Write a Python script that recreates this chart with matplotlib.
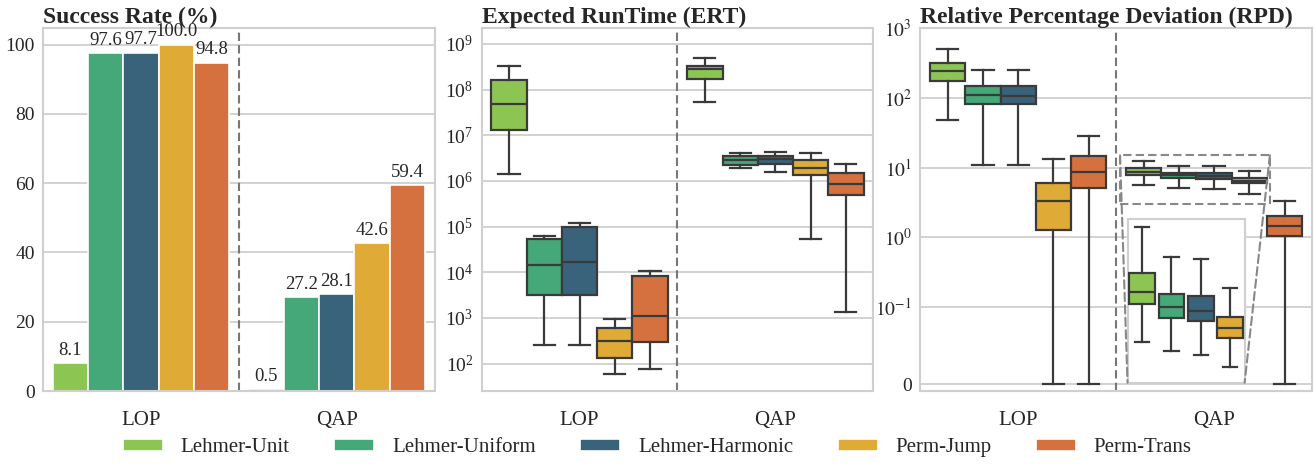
import numpy as np
import matplotlib
matplotlib.use("Agg")
import matplotlib.pyplot as plt
from matplotlib.patches import Rectangle, ConnectionPatch

plt.rcParams["font.family"] = ["Liberation Serif", "DejaVu Serif"]
plt.rcParams["mathtext.fontset"] = "stix"
plt.rcParams["text.color"] = "#262626"
plt.rcParams["xtick.color"] = "#262626"
plt.rcParams["ytick.color"] = "#262626"

methods = ["Lehmer-Unit", "Lehmer-Uniform", "Lehmer-Harmonic", "Perm-Jump", "Perm-Trans"]
colors = ["#8DC553", "#45A879", "#39637A", "#E0AA36", "#D5703F"]
problems = ["LOP", "QAP"]

success_lop = [8.1, 97.6, 97.7, 100.0, 94.8]
success_qap = [0.5, 27.2, 28.1, 42.6, 59.4]

# box summaries per method: whislo, q1, median, q3, whishi
ert_lop = [
    [1.45e6, 1.33e7, 4.9e7, 1.65e8, 3.35e8],
    [260, 3.16e3, 1.46e4, 5.3e4, 6.2e4],
    [260, 3.16e3, 1.67e4, 9.6e4, 1.19e5],
    [58, 130, 307, 612, 964],
    [76, 302, 1.1e3, 8.4e3, 1.04e4],
]
ert_qap = [
    [5.3e7, 1.71e8, 2.9e8, 3.35e8, 4.9e8],
    [1.9e6, 2.2e6, 2.9e6, 3.6e6, 4.2e6],
    [1.6e6, 2.3e6, 3.05e6, 3.6e6, 4.3e6],
    [5.4e4, 1.38e6, 1.9e6, 2.9e6, 4.0e6],
    [1.34e3, 5.0e5, 8.4e5, 1.5e6, 2.37e6],
]
rpd_lop = [
    [47.7, 177, 244, 315, 512],
    [11, 83, 109, 149, 255],
    [11, 83, 108, 149, 255],
    [0, 1.26, 3.3, 6.0, 13.1],
    [0, 5.1, 8.7, 14.5, 28],
]
rpd_qap = [
    [5.7, 7.9, 8.58, 9.71, 12.4],
    [5.14, 7.05, 7.75, 8.48, 10.66],
    [4.94, 6.9, 7.5, 8.37, 10.52],
    [4.21, 5.93, 6.5, 7.11, 8.85],
    [0, 1.04, 1.47, 2.0, 3.35],
]
zoom_ylim = (3.0, 15.0)      # region of the main RPD axis that gets magnified
inset_ylim = (3.3, 12.85)

BW = 0.18
offsets = (np.arange(len(methods)) - 2) * BW
dark = "#3a3a3a"
gridc = "#cfcfcf"


def stats(row):
    lo, q1, med, q3, hi = row
    return dict(whislo=lo, q1=q1, med=med, q3=q3, whishi=hi, fliers=[])


def draw_boxes(ax, rows, positions, cols, width, capfrac=0.6):
    bp = ax.bxp([stats(r) for r in rows], positions=positions,
                widths=width, capwidths=width * capfrac,
                patch_artist=True, showfliers=False, manage_ticks=False,
                boxprops=dict(edgecolor=dark, linewidth=1.6),
                medianprops=dict(color=dark, linewidth=1.6),
                whiskerprops=dict(color=dark, linewidth=1.6),
                capprops=dict(color=dark, linewidth=1.6))
    for patch, c in zip(bp["boxes"], cols):
        patch.set_facecolor(c)
    for k in bp:
        for a in bp[k]:
            a.set_zorder(3)
    return bp


def style_axis(ax, title):
    ax.set_facecolor("white")
    for s in ax.spines.values():
        s.set_color(gridc)
        s.set_linewidth(1.5)
    ax.grid(axis="y", color=gridc, linewidth=1.3, zorder=0)
    ax.set_axisbelow(True)
    ax.tick_params(length=0, labelsize=14)
    ax.tick_params(axis="y", pad=6)
    ax.tick_params(axis="x", pad=14, labelsize=15)
    ax.set_xlim(-0.5, 1.5)
    ax.set_xticks([0, 1], problems)
    ax.axvline(0.5, color="#777777", linestyle=(0, (4, 2)), linewidth=1.5, zorder=2)
    ax.set_title(title, loc="left", fontweight="bold", fontsize=17, pad=4)


fig, axes = plt.subplots(1, 3, figsize=(13.15, 4.65), dpi=100)
fig.subplots_adjust(left=0.0327, right=0.9977, top=0.939, bottom=0.159, wspace=0.12)

# Success rate
ax = axes[0]
style_axis(ax, "Success Rate (%)")
handles = []
for j, m in enumerate(methods):
    bars = ax.bar(np.arange(2) + offsets[j], [success_lop[j], success_qap[j]], width=BW,
                  color=colors[j], edgecolor="white", linewidth=1.2, zorder=2, label=m)
    ax.bar_label(bars, fmt="%.1f", padding=3, fontsize=13.5, color="#262626")
    handles.append(bars)
ax.set_ylim(0, 104.7)
ax.set_yticks([0, 20, 40, 60, 80, 100])

# ERT
ax = axes[1]
style_axis(ax, "Expected RunTime (ERT)")
ax.set_yscale("log")
for i, rows in enumerate([ert_lop, ert_qap]):
    draw_boxes(ax, rows, i + offsets, colors, BW)
ax.set_ylim(25, 2.2e9)
ax.set_yticks([10.0 ** k for k in range(2, 10)])
ax.yaxis.set_minor_locator(matplotlib.ticker.NullLocator())

# RPD
ax = axes[2]
style_axis(ax, "Relative Percentage Deviation (RPD)")
ax.set_yscale("symlog", linthresh=0.1, linscale=1)
for i, rows in enumerate([rpd_lop, rpd_qap]):
    draw_boxes(ax, rows, i + offsets, colors, BW)
ax.set_ylim(-0.009, 1000)
ax.set_yticks([0, 0.1, 1, 10, 100, 1000],
              ["0", r"$10^{-1}$", r"$10^{0}$", r"$10^{1}$", r"$10^{2}$", r"$10^{3}$"])
ax.yaxis.set_minor_locator(matplotlib.ticker.NullLocator())

# zoomed inset of the first four QAP boxes
x0 = 1 + offsets[0] - BW / 2 - 0.03
x1 = 1 + offsets[3] + BW / 2 + 0.015
rect = Rectangle((x0, zoom_ylim[0]), x1 - x0, zoom_ylim[1] - zoom_ylim[0], fill=False,
                 edgecolor="#888888", linestyle=(0, (4, 2)), linewidth=1.5, zorder=4)
ax.add_patch(rect)

ins = ax.inset_axes([0.529, 0.023, 0.299, 0.451])
ins.set_facecolor("white")
for s in ins.spines.values():
    s.set_color(gridc)
    s.set_linewidth(1.5)
draw_boxes(ins, rpd_qap[:4], np.arange(4), colors[:4], 0.88, capfrac=0.55)
ins.set_xlim(-0.5, 3.5)
ins.set_ylim(*inset_ylim)
ins.set_xticks([])
ins.set_yticks([])

for (xa, xb) in [(x0, 0), (x1, 1)]:
    con = ConnectionPatch(xyA=(xa, zoom_ylim[1]), coordsA=ax.transData,
                          xyB=(xb, 0), coordsB=ins.transAxes,
                          color="#888888", linestyle=(0, (4, 2)), linewidth=1.5, zorder=5)
    fig.add_artist(con)

fig.legend(handles, methods, loc="center", bbox_to_anchor=(0.5, 0.037), ncol=5,
           frameon=False, fontsize=15, handlelength=1.92, handleheight=0.56,
           handletextpad=0.85, columnspacing=2.14)

fig.savefig("out.png", dpi=100)
